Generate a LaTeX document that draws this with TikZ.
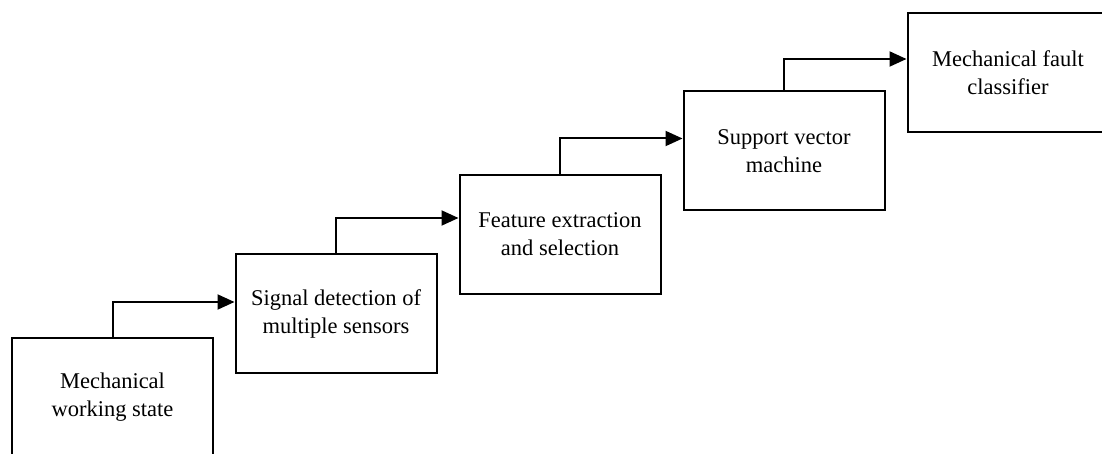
\documentclass[tikz,border=0pt]{standalone}
\usepackage{fontspec}
\setmainfont{Liberation Serif}
\usetikzlibrary{arrows.meta}
\begin{document}
\begin{tikzpicture}[x=1pt,y=-1pt,
  box/.style={draw, line width=2pt, minimum width=201pt, minimum height=119pt,
    align=center, inner sep=0pt, font=\fontsize{22.5}{28}\selectfont},
  conn/.style={line width=2pt, -{Triangle[length=17pt,width=15pt]}}]
\useasboundingbox (0,0) rectangle (1102,454);
\clip (0,0) rectangle (1102,454);
\node[box] (b1) at (112.5,397) {Mechanical\\working state};
\node[box] (b2) at (336,313.5) {Signal detection of\\multiple sensors};
\node[box] (b3) at (560,234.5) {Feature extraction\\and selection};
\node[box] (b4) at (784,151) {Support vector\\machine};
\node[box] (b5) at (1008,72.5) {Mechanical fault\\classifier};
\coordinate (e2) at ([yshift=-49pt]b2.north west);
\coordinate (e3) at ([yshift=-44pt]b3.north west);
\coordinate (e4) at ([yshift=-48pt]b4.north west);
\coordinate (e5) at ([yshift=-47pt]b5.north west);
\draw[conn] (b1.north) |- (e2);
\draw[conn] (b2.north) |- (e3);
\draw[conn] (b3.north) |- (e4);
\draw[conn] (b4.north) |- (e5);
\end{tikzpicture}
\end{document}
